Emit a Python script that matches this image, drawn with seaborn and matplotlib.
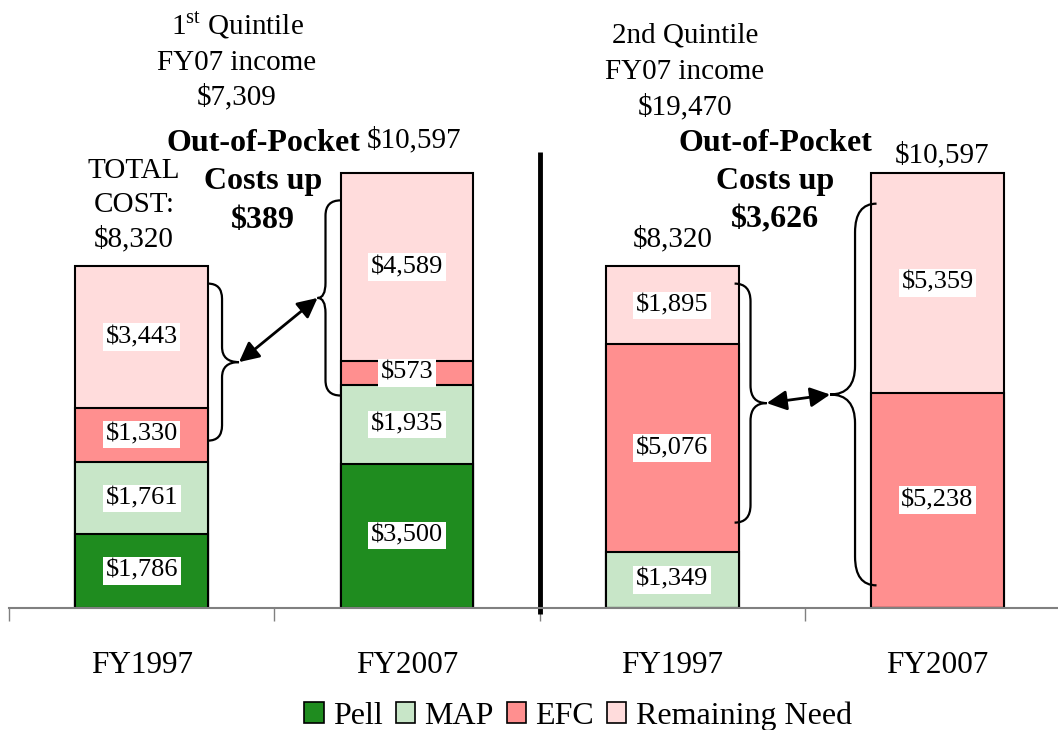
import numpy as np
import pandas as pd
import matplotlib
matplotlib.use('Agg')
import matplotlib.pyplot as plt
from matplotlib.path import Path
from matplotlib.patches import PathPatch, Patch
import seaborn as sns

# ---- data ----
bars = ['Q1 FY1997', 'Q1 FY2007', 'Q2 FY1997', 'Q2 FY2007']
tick_labels = ['FY1997', 'FY2007', 'FY1997', 'FY2007']
components = ['Pell', 'MAP', 'EFC', 'Remaining Need']
pell = [1786, 3500, 0, 0]
map_grant = [1761, 1935, 1349, 0]
efc = [1330, 573, 5076, 5238]
remaining = [3443, 4589, 1895, 5359]
colors = ['#1f8c1f', '#c8e6c8', '#ff8f8f', '#ffdcdc']

q1_title = ['1$^{\\mathregular{st}}$ Quintile', 'FY07 income', '$7,309']
q2_title = ['2nd Quintile', 'FY07 income', '$19,470']
q1_cost_up = ['Out-of-Pocket', 'Costs up', '$389']
q2_cost_up = ['Out-of-Pocket', 'Costs up', '$3,626']
total_note = ['TOTAL', 'COST:', '$8,320']

# brace spans ($) and x offsets (category units): edge, line, tip
braces = [
    dict(x_edge=0.25, x_line=0.303, x_tip=0.367, y0=4070, y1=7900, r=370),
    dict(x_edge=0.75, x_line=0.693, x_tip=0.663, y0=5170, y1=9930, r=370),
    dict(x_edge=2.235, x_line=2.295, x_tip=2.356, y0=2070, y1=7900, r=430),
    dict(x_edge=2.77, x_line=2.689, x_tip=2.595, y0=540, y1=9850, r=700),
]

W, H = 1058, 730

sns.set_theme(style='white')
plt.rcParams['font.family'] = ['Liberation Serif', 'DejaVu Serif']
plt.rcParams['mathtext.fontset'] = 'custom'
plt.rcParams['mathtext.rm'] = 'Liberation Serif'
plt.rcParams['text.color'] = 'black'
plt.rcParams['xtick.color'] = 'black'
plt.rcParams['xtick.labelcolor'] = 'black'

stack = pd.DataFrame({'bar': bars, 'Pell': pell, 'MAP': map_grant,
                      'EFC': efc, 'Remaining Need': remaining})
cum = stack[components].cumsum(axis=1)
cum['bar'] = bars
long = cum.melt(id_vars='bar', var_name='component', value_name='cum')

fig = plt.figure(figsize=(W / 100, H / 100), dpi=100)
ax = fig.add_axes([9 / W, 122.5 / H, 1049 / W, 508 / H])

# draw cumulative bars from the top layer down
for comp, col in reversed(list(zip(components, colors))):
    sub = long[long['component'] == comp]
    sns.barplot(data=sub, x='bar', y='cum', order=bars, color=col, saturation=1,
                width=0.5, edgecolor='black', linewidth=1.5, ax=ax)

# segment labels
for i in range(len(bars)):
    base = 0
    for comp in components:
        v = stack.loc[i, comp]
        if v > 0:
            ax.text(i, base + v / 2, f'${v:,}', ha='center', va='center', fontsize=19,
                    color='black',
                    bbox=dict(boxstyle='square,pad=0.1', fc='white', ec='none'))
        base += v

ax.set_xlabel('')
ax.set_ylabel('')
ax.set_yticks([])
ax.set_xticks(range(len(bars)))
ax.set_xticklabels(tick_labels, fontsize=22.5, color='black')
ax.set_xticks(np.arange(-0.5, 3, 1), minor=True)
ax.tick_params(axis='x', which='major', length=0, pad=31)
ax.tick_params(axis='x', which='minor', length=9, width=1, color='#808080',
               direction='out', bottom=True)
ax.set_xlim(-0.5, -0.5 + 1049 / 265.3)
ax.set_ylim(0, 508 / 0.041)
for s in ['top', 'right', 'left']:
    ax.spines[s].set_visible(False)
ax.spines['bottom'].set_color('#808080')
ax.spines['bottom'].set_linewidth(1.5)

# divider
ax.plot([1.5, 1.5], [-160, 11110], color='black', lw=3.5, clip_on=False,
        solid_capstyle='butt')

# braces and arrows
for b in braces:
    ym = (b['y0'] + b['y1']) / 2
    xl, r = b['x_line'], b['r']
    verts = [(b['x_edge'], b['y1']), (xl, b['y1']), (xl, b['y1'] - r),
             (xl, ym + r), (xl, ym), (b['x_tip'], ym),
             (xl, ym), (xl, ym - r),
             (xl, b['y0'] + r), (xl, b['y0']), (b['x_edge'], b['y0'])]
    codes = [Path.MOVETO, Path.CURVE3, Path.CURVE3, Path.LINETO, Path.CURVE3, Path.CURVE3,
             Path.CURVE3, Path.CURVE3, Path.LINETO, Path.CURVE3, Path.CURVE3]
    ax.add_patch(PathPatch(Path(verts, codes), fill=False, lw=1.6, ec='black',
                           clip_on=False))

for a, b in [(braces[0], braces[1]), (braces[2], braces[3])]:
    ax.annotate('', xy=(b['x_tip'], (b['y0'] + b['y1']) / 2),
                xytext=(a['x_tip'], (a['y0'] + a['y1']) / 2),
                arrowprops=dict(arrowstyle='<|-|>,head_length=0.8,head_width=0.4',
                                mutation_scale=15, lw=2, color='black',
                                shrinkA=0, shrinkB=0))


def put_lines(x, y_first, lines, step, size, **kw):
    # one text per line, y given as visual centre (pixels from top)
    off = 0.33 * size * 100 / 72
    for k, line in enumerate(lines):
        y = y_first + k * step + off
        fig.text(x / W, 1 - y / H, line, ha='center', va='baseline', fontsize=size, **kw)


# titles and notes
put_lines(237, 25, q1_title, 35, 21)
put_lines(685, 33, q2_title, 36, 21)
put_lines(263, 140, q1_cost_up, 38.5, 23, fontweight='bold')
put_lines(775, 140, q2_cost_up, 38.5, 23, fontweight='bold')
put_lines(134, 168, total_note, 34.5, 21)
put_lines(414, 138, ['$10,597'], 0, 21)
put_lines(673, 237, ['$8,320'], 0, 21)
put_lines(942, 153, ['$10,597'], 0, 21)

handles = [Patch(facecolor=c, edgecolor='black', lw=1.2) for c in colors]
fig.legend(handles, components, loc='center', bbox_to_anchor=(578 / W, 1 - 716 / H),
           ncol=4, frameon=False, fontsize=23, handlelength=0.6, handleheight=0.6,
           handletextpad=0.3, columnspacing=0.4, borderpad=0)

fig.savefig('out.png', dpi=100)
